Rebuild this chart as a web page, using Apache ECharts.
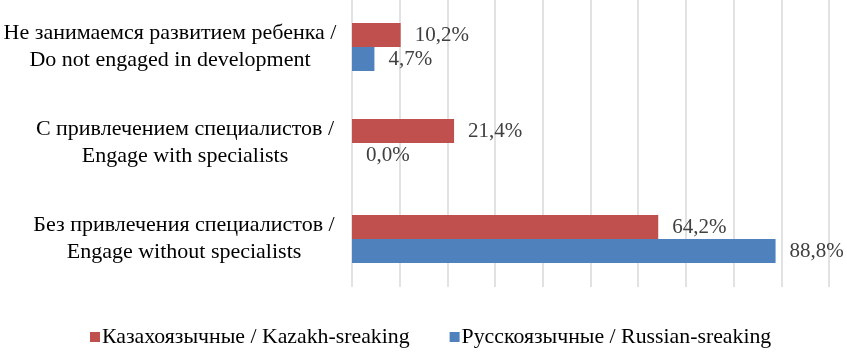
<!DOCTYPE html>
<html><head><meta charset="utf-8">
<script src="https://cdn.jsdelivr.net/npm/echarts@6/dist/echarts.min.js"></script>
<style>html,body{margin:0;padding:0;background:#fff}#c{width:847px;height:352px}</style>
</head><body><div id="c"></div>
<script>
const categories = [
  "Не занимаемся развитием ребенка /\nDo not engaged in development",
  "С привлечением специалистов /\nEngage with specialists",
  "Без привлечения специалистов /\nEngage without specialists"
];
const seriesNames = ["Казахоязычные / Kazakh-sreaking", "Русскоязычные / Russian-sreaking"];
const kazakh = [10.2, 21.4, 64.2];
const russian = [4.7, 0.0, 88.8];
const labelShift = [0, 30, 28];

const font = '"Liberation Serif", "Times New Roman", serif';
const chart = echarts.init(document.getElementById('c'), null, {renderer: 'canvas'});
const fmt = p => p.value.toFixed(1).replace('.', ',') + '%';
chart.setOption({
  animation: false,
  grid: {left: 352, right: 18, top: -1, height: 288, containLabel: false, outerBoundsMode: 'none'},
  legend: {
    top: 321, left: 85, itemWidth: 10, itemHeight: 10, itemGap: 40,
    icon: 'rect',
    textStyle: {fontFamily: font, fontSize: 21.8, color: '#000', padding: [0, 0, 0, -3]}
  },
  xAxis: {
    type: 'value', min: 0, max: 100, interval: 10,
    axisLabel: {show: false}, axisLine: {show: false}, axisTick: {show: false},
    splitLine: {lineStyle: {color: '#d9d9d9', width: 1.5}}
  },
  yAxis: {
    type: 'category', inverse: true,
    data: categories.map((c, i) => ({value: c, textStyle: {align: 'center', padding: [0, 0, 0, labelShift[i]]}})),
    axisLine: {show: false}, axisTick: {show: false},
    axisLabel: {fontFamily: font, fontSize: 22, color: '#000', lineHeight: 27, align: 'center', margin: 182}
  },
  series: [
    {name: seriesNames[0], type: 'bar', data: kazakh, barGap: '0%', barCategoryGap: '50%',
     itemStyle: {color: '#C0504D'},
     label: {show: true, position: 'right', distance: 14, formatter: fmt, fontFamily: font, fontSize: 21, color: '#404040'}},
    {name: seriesNames[1], type: 'bar', data: russian,
     itemStyle: {color: '#4F81BD'},
     label: {show: true, position: 'right', distance: 14, formatter: fmt, fontFamily: font, fontSize: 21, color: '#404040'}}
  ]
});
</script></body></html>
